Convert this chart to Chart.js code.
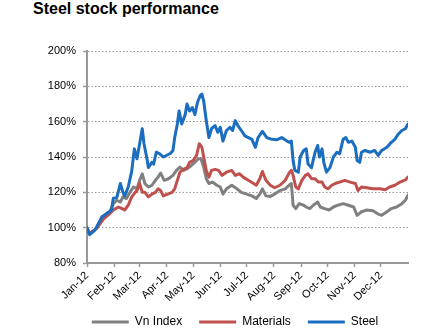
<!DOCTYPE html>
<html>
<head>
<meta charset="utf-8">
<title>Steel stock performance</title>
<script src="https://cdn.jsdelivr.net/npm/chart.js@4/dist/chart.umd.min.js"></script>
<style>
  html, body { margin: 0; padding: 0; background: #fff; }
  #wrap { position: relative; width: 446px; height: 333px; }
  #title {
    position: absolute; left: 33px; top: 1px; margin: 0;
    font: bold 16px "Liberation Sans", Arial, sans-serif; line-height: 16px; color: #000;
  }
  canvas { position: absolute; left: 0; top: 0; }
</style>
</head>
<body>
<div id="wrap">
  <h1 id="title">Steel stock performance</h1>
  <canvas id="chart" width="446" height="333"></canvas>
</div>
<script>
// Month axis: labels and the day-of-year each month starts on (2012 is a leap year)
const monthLabels = ['Jan-12','Feb-12','Mar-12','Apr-12','May-12','Jun-12','Jul-12','Aug-12','Sep-12','Oct-12','Nov-12','Dec-12'];
const monthStartDays = [0, 31, 60, 91, 121, 152, 182, 213, 244, 274, 305, 335];

// Performance rebased to 100% on 1 Jan 2012 (x = day of year, y = %)
const vnIndexDays = [0,3,11,17,26,30,34,38,41,45,49,53,57,60,63,66,70,74,78,81,84,88,93,98,102,106,110,114,119,123,127,130,133,136,139,143,148,152,155,159,165,171,176,182,188,193,197,200,204,209,214,220,226,231,233,235,238,242,247,250,254,258,263,266,271,276,281,286,292,298,304,308,313,319,326,332,336,342,347,353,359,363,366];
const vnIndexValues = [100,96.7,99.6,106,109,113.6,115.5,114.5,117.4,116.5,120,123,122,126.8,130.5,125,123,124,126.8,128.6,130.9,126.8,127.7,129.6,132.4,134.3,132.4,133.3,135.2,137,139,139,134.3,127.7,125,125.8,124,123,119,122,124,122,120,119,118,116.5,119,122,118,117.7,119,121,122,124.3,125,112.7,110.8,113.6,112.7,111.7,110.8,112.7,114.5,111.7,110.8,110,111.7,112.7,113.6,112.7,111.7,107,109,110,109.6,107.7,107,109,110.8,111.7,113.6,115.5,118.4];

const materialsDays = [0,3,11,19,26,30,36,40,43,47,51,55,57,60,63,66,70,74,78,81,84,87,92,97,100,103,106,110,114,117,121,125,128,131,133,136,139,142,146,150,154,159,165,169,174,178,184,190,193,197,200,204,209,214,220,226,231,233,235,238,241,245,249,252,256,260,264,268,271,275,279,283,288,294,300,306,309,313,319,326,334,340,345,351,357,363,366];
const materialsValues = [99.6,96.7,99.6,105,108,110,111.7,110.8,110,112.7,117.4,120,121,125,120,120,117.4,119,120,122,121,118,119,120,122,126.8,131.4,133,134,137,138,141,147.5,145.5,140,132.4,128.6,132.4,133,132.4,129.6,131.4,132.4,129.6,130.5,128.6,126.8,125,124,127.7,131.8,126.8,124,122.6,124,126.8,131.4,132.4,129.6,123,122,126.8,129.6,130.5,127.7,127.7,125.8,125.8,123,122,124,125,125.8,126.8,125.8,125,121,123,122.6,122,122,121.5,123,124,125.8,127,128.6];

const steelDays = [0,3,9,17,28,30,34,38,41,43,47,51,54,57,60,63,65,68,70,74,76,79,83,87,91,95,98,100,103,105,108,112,114,117,120,123,126,129,131,133,136,139,142,146,149,152,155,159,163,166,169,172,176,180,184,188,192,195,200,205,211,216,222,228,231,233,235,237,241,243,247,250,252,256,260,263,265,268,270,273,277,281,285,288,292,295,298,302,306,308,311,313,317,323,328,332,336,342,347,351,355,359,363,366];
const steelValues = [100,96,98.6,106,110,116.6,117,125,120,118,123,132,144.6,139,147.5,156,147.5,140,134,137,136,142.7,141.8,140,141,142,143.7,151,158.7,166,158.7,164,170,166,168,164,171,174.7,175.6,171.8,160.6,151,156,157.8,154,156.8,149,155,156.8,155,160.6,157.8,155,152,151,150,145.5,151,154.5,151,150,149.7,151,149,148.3,149,138,132.4,131.4,140,143.7,144.6,136,134,142.7,146.5,140,144.6,137,131.4,134,140,142.7,141.8,150,151,148.3,149,145.5,138,137,142.7,143.7,142.7,143.7,140.9,143.7,145.5,148.3,150,153,155,156,158.7];

// Y axis range and tick step, in percent
const yMin = 80, yMax = 200, yStep = 20;

const toPoints = (days, values) => days.map((d, i) => ({ x: d, y: values[i] }));
const fontFamily = '"Liberation Sans", Arial, sans-serif';
const axisFont = { family: fontFamily, size: 11 };
const legendFont = { family: fontFamily, size: 12 };

// Moves the legend row under the plot after layout
const legendOffset = {
  id: 'legendOffset',
  afterLayout(chart) {
    const lg = chart.legend;
    if (lg) {
      lg.top -= 10; lg.bottom -= 10;
      lg.left += 31; lg.right += 31;
    }
  }
};

new Chart(document.getElementById('chart'), {
  type: 'line',
  data: {
    datasets: [
      { label: 'Vn Index', data: toPoints(vnIndexDays, vnIndexValues), borderColor: '#808080', backgroundColor: '#808080', borderWidth: 3, order: 3 },
      { label: 'Materials', data: toPoints(materialsDays, materialsValues), borderColor: '#C0504D', backgroundColor: '#C0504D', borderWidth: 3, order: 2 },
      { label: 'Steel', data: toPoints(steelDays, steelValues), borderColor: '#1B6DBF', backgroundColor: '#1B6DBF', borderWidth: 3, order: 1 }
    ]
  },
  plugins: [legendOffset],
  options: {
    responsive: false,
    animation: false,
    devicePixelRatio: 1,
    layout: { padding: { top: 51, left: 0, right: 38, bottom: -15 } },
    elements: {
      line: { tension: 0, borderJoinStyle: 'round', borderCapStyle: 'round' },
      point: { radius: 0 }
    },
    plugins: {
      tooltip: { enabled: false },
      legend: {
        position: 'bottom',
        labels: {
          font: legendFont,
          color: '#000',
          usePointStyle: true,
          pointStyle: 'line',
          pointStyleWidth: 37,
          boxHeight: 12,
          padding: 17,
          sort: (a, b) => a.datasetIndex - b.datasetIndex
        }
      }
    },
    scales: {
      x: {
        type: 'linear',
        min: 0,
        max: 366,
        afterBuildTicks: (scale) => { scale.ticks = monthStartDays.map(v => ({ value: v })); },
        afterFit: (scale) => { scale.height = 46; },
        ticks: {
          autoSkip: false,
          minRotation: 45,
          maxRotation: 45,
          padding: 2,
          font: axisFont,
          color: '#000',
          callback: (value, index) => monthLabels[index]
        },
        grid: { drawOnChartArea: false, drawTicks: true, tickLength: 4, tickColor: '#999', tickWidth: 1.5 },
        border: { color: '#999', width: 2 }
      },
      y: {
        min: yMin,
        max: yMax,
        afterFit: (scale) => { scale.width = 87; },
        ticks: {
          stepSize: yStep,
          padding: 7,
          font: axisFont,
          color: '#000',
          callback: (value) => value + '%'
        },
        grid: { color: '#999', lineWidth: 1, tickLength: 4, tickColor: '#999', tickWidth: 1.5, tickBorderDash: [] },
        border: { color: '#999', width: 2, dash: [1.5, 2] }
      }
    }
  }
});
</script>
</body>
</html>
